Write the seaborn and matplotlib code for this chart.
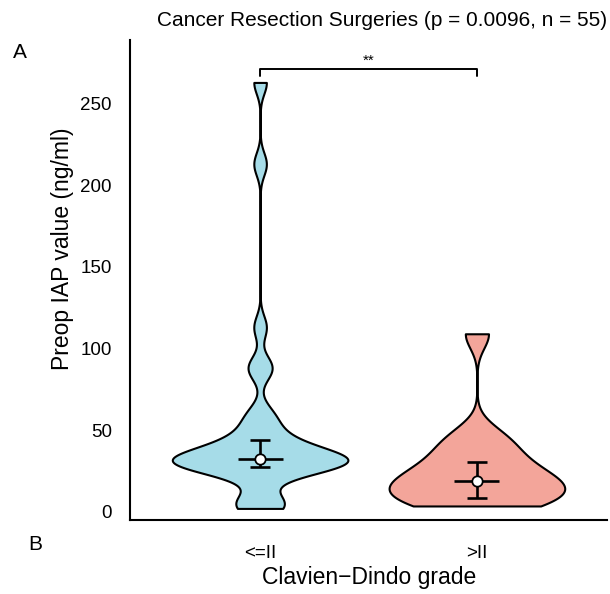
import numpy as np
import pandas as pd
import matplotlib
matplotlib.use("Agg")
import matplotlib.pyplot as plt
import seaborn as sns

# ---- data ----
categories = ["<=II", ">II"]
group_low = [2, 3, 5, 8, 22, 25, 27, 28, 29, 30, 30, 31, 31, 32, 32, 32, 34, 36, 38,
             40, 42, 45, 50, 56, 61, 86, 90, 113, 213, 263]
group_high = [3.5, 4, 6, 9, 12, 15, 17, 19, 22, 26, 30, 36, 42, 48, 109]
medians = [32, 19]
ci_low = [27.6, 8.6]
ci_high = [44, 30.3]
colors = ["#A6DCE8", "#F3A59A"]
title = "Cancer Resection Surgeries (p = 0.0096, n = 55)"
y_label = "Preop IAP value (ng/ml)"
x_label = "Clavien\u2212Dindo grade"
y_ticks = [0, 50, 100, 150, 200, 250]
signif_label = "**"
signif_y = 271.5

df = pd.DataFrame({
    "grade": [categories[0]] * len(group_low) + [categories[1]] * len(group_high),
    "value": group_low + group_high,
})


def nrd0(kde):
    x = np.asarray(kde.dataset[0])
    n = len(x)
    sd = x.std(ddof=1)
    q75, q25 = np.percentile(x, [75, 25])
    h = 0.9 * min(sd, (q75 - q25) / 1.34) * n ** (-0.2)
    return h / sd


sns.set_style("white")
plt.rcParams["font.family"] = ["Liberation Sans", "DejaVu Sans"]
plt.rcParams["text.color"] = "black"
plt.rcParams["axes.labelcolor"] = "black"

fig = plt.figure(figsize=(6.10, 5.94), dpi=100)
ax = fig.add_axes([130 / 610, 1 - 520 / 594, 477 / 610, (520 - 40) / 594])

sns.violinplot(data=df, x="grade", y="value", hue="grade", order=categories,
               hue_order=categories, palette=colors, saturation=1, cut=0,
               inner=None, density_norm="width", width=0.81, linewidth=1.5,
               linecolor="black", bw_method=nrd0, gridsize=512, legend=False, ax=ax)

pos = np.arange(len(categories))
# error bars (interval + caps + median crossbar)
ax.vlines(pos, ci_low, ci_high, color="black", lw=1.9, zorder=5)
ax.hlines(ci_low, pos - 0.048, pos + 0.048, color="black", lw=1.9, zorder=5)
ax.hlines(ci_high, pos - 0.048, pos + 0.048, color="black", lw=1.9, zorder=5)
ax.hlines(medians, pos - 0.104, pos + 0.104, color="black", lw=1.9, zorder=5)
ax.plot(pos, medians, "o", ms=7.5, mfc="white", mec="black", mew=1.3, zorder=6)

# significance bracket
ax.plot([pos[0], pos[0], pos[1], pos[1]], [signif_y - 4.5, signif_y, signif_y, signif_y - 4.5],
        color="black", lw=1.4, clip_on=False)
ax.text(pos.mean(), signif_y + 0.5, signif_label, ha="center", va="bottom", fontsize=11)

ax.set_xlim(-0.6, 1.6)
ax.set_ylim(-5.1, 289)
ax.set_yticks(y_ticks)
ax.set_xticks(pos)
ax.set_xticklabels(categories)
ax.set_xlabel(x_label, fontsize=16.5)
ax.set_ylabel(y_label, fontsize=16.5)
ax.xaxis.set_label_coords((369 - 130) / 477, -(566 - 520) / 480)
ax.yaxis.set_label_coords((74 - 130) / 477, (520 - 249) / 480)
for s in ["top", "right"]:
    ax.spines[s].set_visible(False)
for s in ["left", "bottom"]:
    ax.spines[s].set_linewidth(1.5)
    ax.spines[s].set_color("black")
ax.tick_params(axis="both", direction="out", length=8, width=1.5, color="black",
               labelsize=13.5, labelcolor="black", pad=5)
ax.tick_params(axis="x", pad=10)

fig.text(382 / 610, 1 - 20 / 594, title, ha="center", va="center", fontsize=15)
fig.text(20 / 610, 1 - 53 / 594, "A", ha="center", va="center", fontsize=15)
fig.text(35 / 610, 1 - 545 / 594, "B", ha="center", va="center", fontsize=15)

fig.savefig("out.png", dpi=100)
